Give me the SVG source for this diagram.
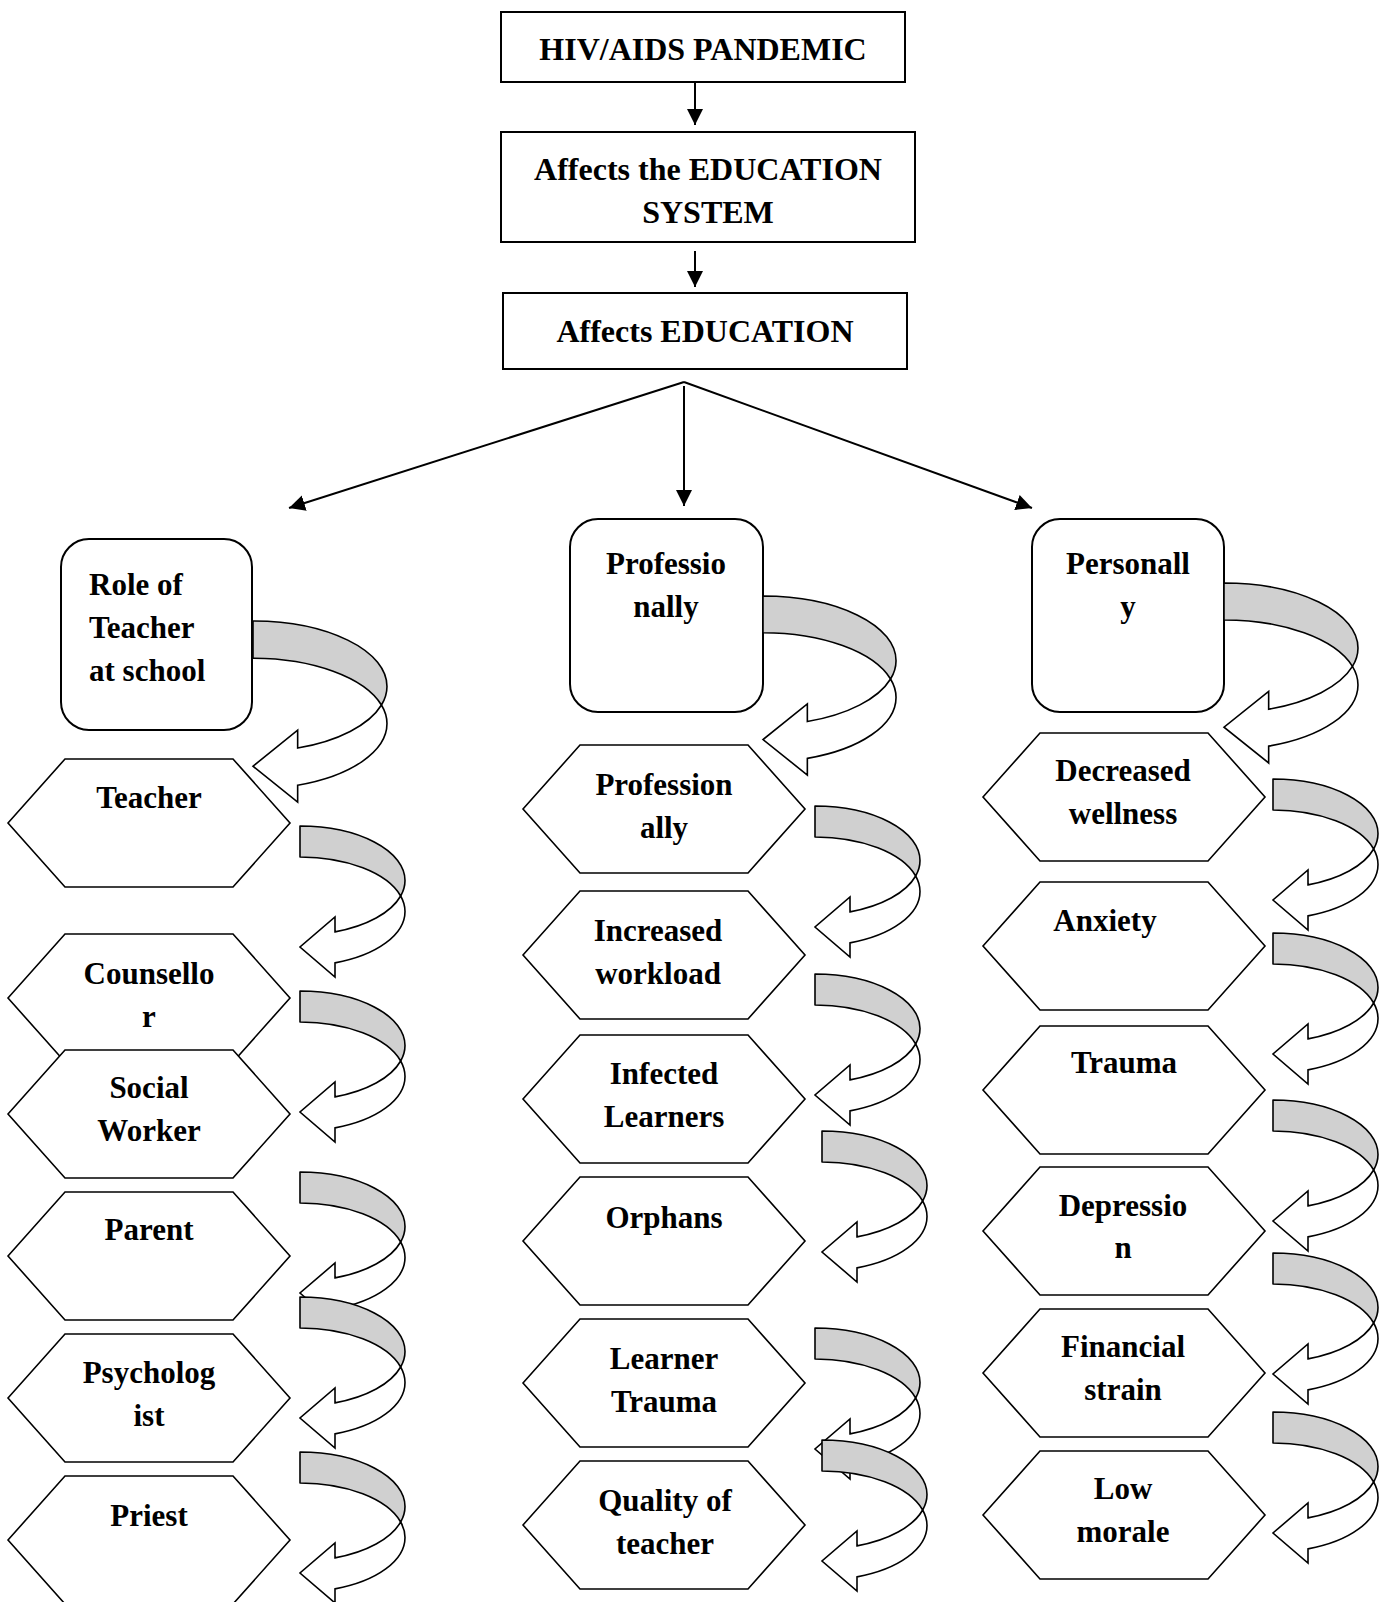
<svg xmlns="http://www.w3.org/2000/svg" xmlns:xlink="http://www.w3.org/1999/xlink" width="1392" height="1602" viewBox="0 0 1392 1602">
<style>
.box{fill:#fff;stroke:#000;stroke-width:2}
.hex{fill:#fff;stroke:#000;stroke-width:1.6}
.t{font-family:"Liberation Serif","Times New Roman",serif;font-weight:bold;font-size:31px;fill:#000}
.big{font-size:32px}
.c{text-anchor:middle}
.band{fill:#d0d0d0;stroke:#000;stroke-width:1.6;stroke-linejoin:round;vector-effect:non-scaling-stroke}
.face{fill:#fff;stroke:#000;stroke-width:1.6;stroke-linejoin:miter;vector-effect:non-scaling-stroke}
.ln{stroke:#000;stroke-width:2;fill:none}
</style>
<defs>
<marker id="ah" markerUnits="userSpaceOnUse" markerWidth="17" markerHeight="17" refX="16" refY="8" orient="auto">
<path d="M0,0 L16,8 L0,16 Z" fill="#000"/>
</marker>
<polygon id="hx" class="hex" points="0,64 57,0 225,0 282,64 225,128 57,128"/>
<g id="ca">
<path class="band" d="M0,0 A105,54.5 0 0 1 105,54.5 A105,54.5 0 0 1 100.66,70 A105,54.5 0 0 0 0,31 Z"/>
<path class="face" d="M100.66,70 A105,54.5 0 0 1 35,105.88 L35,91 L0,121 L35,151 L35,136.88 A105,54.5 0 0 0 105,85.5 A105,54.5 0 0 0 100.66,70 Z"/>
</g>
</defs>
<rect width="1392" height="1602" fill="#fff"/>

<g id="n-hiv">
<rect class="box" x="501" y="12" width="404" height="70"/>
<text class="t big c" x="703" y="60">HIV/AIDS PANDEMIC</text>
</g>
<g id="n-system">
<rect class="box" x="501" y="132" width="414" height="110"/>
<text class="t big c" x="708" y="180">Affects the EDUCATION</text>
<text class="t big c" x="708" y="223">SYSTEM</text>
</g>
<g id="n-education">
<rect class="box" x="503" y="293" width="404" height="76"/>
<text class="t big c" x="705" y="342">Affects EDUCATION</text>
</g>

<g id="n-role">
<rect class="box" x="61" y="539" width="191" height="191" rx="28" ry="28"/>
<text class="t" x="89" y="595">Role of</text>
<text class="t" x="89" y="638">Teacher</text>
<text class="t" x="89" y="681">at school</text>
</g>
<g id="n-prof">
<rect class="box" x="570" y="519" width="193" height="193" rx="28" ry="28"/>
<text class="t c" x="666" y="574">Professio</text>
<text class="t c" x="666" y="617">nally</text>
</g>
<g id="n-pers">
<rect class="box" x="1032" y="519" width="192" height="193" rx="28" ry="28"/>
<text class="t c" x="1128" y="574">Personall</text>
<text class="t c" x="1128" y="617">y</text>
</g>

<g id="n-teacher"><use xlink:href="#hx" x="8" y="759"/><text class="t c" x="149" y="808">Teacher</text></g>
<g id="n-counsellor"><use xlink:href="#hx" x="8" y="934"/><text class="t c" x="149" y="984">Counsello</text><text class="t c" x="149" y="1027">r</text></g>
<g id="n-social"><use xlink:href="#hx" x="8" y="1050"/><text class="t c" x="149" y="1098">Social</text><text class="t c" x="149" y="1141">Worker</text></g>
<g id="n-parent"><use xlink:href="#hx" x="8" y="1192"/><text class="t c" x="149" y="1240">Parent</text></g>
<g id="n-psych"><use xlink:href="#hx" x="8" y="1334"/><text class="t c" x="149" y="1383">Psycholog</text><text class="t c" x="149" y="1426">ist</text></g>
<g id="n-priest"><use xlink:href="#hx" x="8" y="1476"/><text class="t c" x="149" y="1526">Priest</text></g>

<g id="n-profally"><use xlink:href="#hx" x="523" y="745"/><text class="t c" x="664" y="795">Profession</text><text class="t c" x="664" y="838">ally</text></g>
<g id="n-workload"><use xlink:href="#hx" x="523" y="891"/><text class="t c" x="658" y="941">Increased</text><text class="t c" x="658" y="984">workload</text></g>
<g id="n-infected"><use xlink:href="#hx" x="523" y="1035"/><text class="t c" x="664" y="1084">Infected</text><text class="t c" x="664" y="1127">Learners</text></g>
<g id="n-orphans"><use xlink:href="#hx" x="523" y="1177"/><text class="t c" x="664" y="1228">Orphans</text></g>
<g id="n-ltrauma"><use xlink:href="#hx" x="523" y="1319"/><text class="t c" x="664" y="1369">Learner</text><text class="t c" x="664" y="1412">Trauma</text></g>
<g id="n-quality"><use xlink:href="#hx" x="523" y="1461"/><text class="t c" x="665" y="1511">Quality of</text><text class="t c" x="665" y="1554">teacher</text></g>

<g id="n-wellness"><use xlink:href="#hx" x="983" y="733"/><text class="t c" x="1123" y="781">Decreased</text><text class="t c" x="1123" y="824">wellness</text></g>
<g id="n-anxiety"><use xlink:href="#hx" x="983" y="882"/><text class="t c" x="1105" y="931">Anxiety</text></g>
<g id="n-trauma"><use xlink:href="#hx" x="983" y="1026"/><text class="t c" x="1124" y="1073">Trauma</text></g>
<g id="n-depression"><use xlink:href="#hx" x="983" y="1167"/><text class="t c" x="1123" y="1216">Depressio</text><text class="t c" x="1123" y="1258">n</text></g>
<g id="n-financial"><use xlink:href="#hx" x="983" y="1309"/><text class="t c" x="1123" y="1357">Financial</text><text class="t c" x="1123" y="1400">strain</text></g>
<g id="n-morale"><use xlink:href="#hx" x="983" y="1451"/><text class="t c" x="1123" y="1499">Low</text><text class="t c" x="1123" y="1542">morale</text></g>

<g id="connectors">
<line class="ln" x1="695" y1="82" x2="695" y2="125" marker-end="url(#ah)"/>
<line class="ln" x1="695" y1="251" x2="695" y2="287" marker-end="url(#ah)"/>
<line class="ln" x1="684" y1="382" x2="289" y2="508" marker-end="url(#ah)"/>
<line class="ln" x1="684" y1="382" x2="1032" y2="508" marker-end="url(#ah)"/>
<line class="ln" x1="684" y1="386" x2="684" y2="506" marker-end="url(#ah)"/>

<use xlink:href="#ca" transform="translate(253,621) scale(1.276,1.2)"/>
<use xlink:href="#ca" transform="translate(300,826)"/>
<use xlink:href="#ca" transform="translate(300,991)"/>
<use xlink:href="#ca" transform="translate(300,1172)"/>
<use xlink:href="#ca" transform="translate(300,1297)"/>
<use xlink:href="#ca" transform="translate(300,1452)"/>

<use xlink:href="#ca" transform="translate(763,596) scale(1.267,1.186)"/>
<use xlink:href="#ca" transform="translate(815,806)"/>
<use xlink:href="#ca" transform="translate(815,974)"/>
<use xlink:href="#ca" transform="translate(822,1131)"/>
<use xlink:href="#ca" transform="translate(815,1328)"/>
<use xlink:href="#ca" transform="translate(822,1440)"/>

<use xlink:href="#ca" transform="translate(1224,583) scale(1.276,1.192)"/>
<use xlink:href="#ca" transform="translate(1273,779)"/>
<use xlink:href="#ca" transform="translate(1273,933)"/>
<use xlink:href="#ca" transform="translate(1273,1100)"/>
<use xlink:href="#ca" transform="translate(1273,1253)"/>
<use xlink:href="#ca" transform="translate(1273,1412)"/>
</g>
</svg>
